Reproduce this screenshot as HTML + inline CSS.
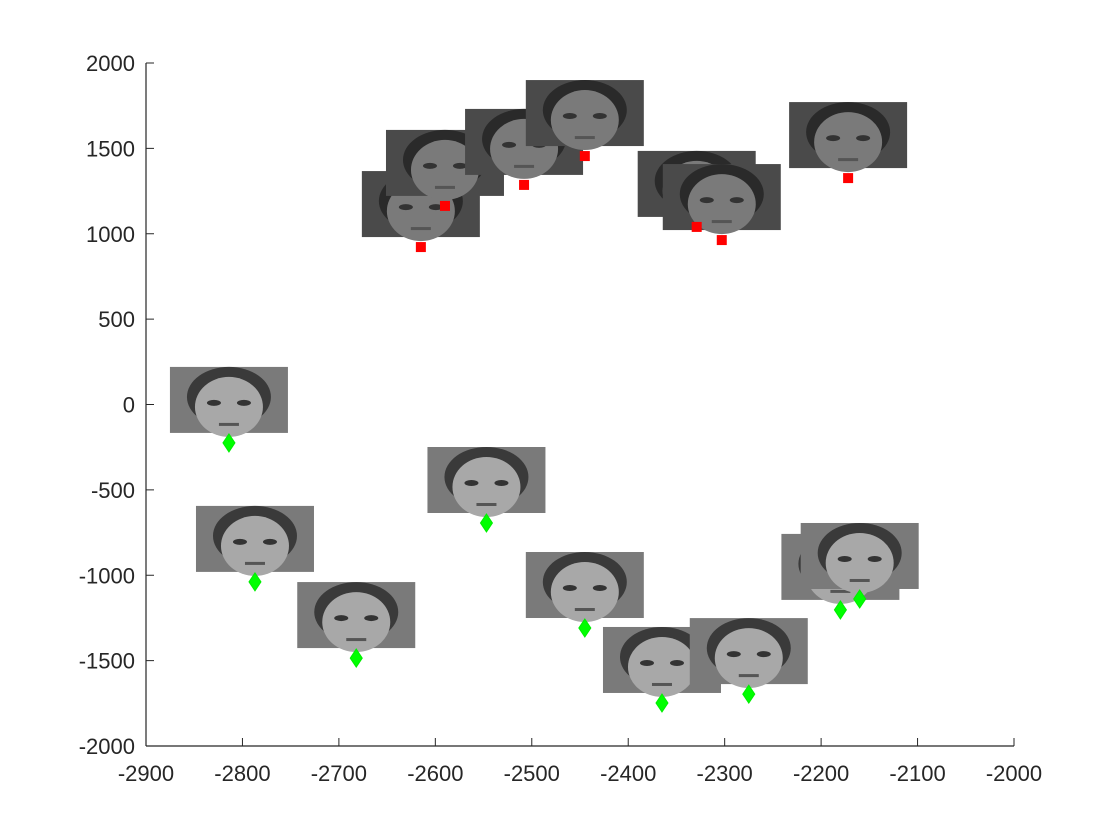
<!DOCTYPE html>
<html><head><meta charset="utf-8"><style>
body{margin:0;background:#fff}
svg{display:block}
text{font-family:"Liberation Sans",sans-serif;font-size:22px;fill:#262626}
</style></head><body>
<svg id="chart" width="1120" height="840">
<g id="imgs"></g>
<g id="marks"></g>
<g id="axes"></g>
</svg>
<script>
const redX=[-2615,-2590,-2508,-2445,-2329,-2303,-2172];
const redY=[922,1163,1286,1455,1040,963,1326];
const greenX=[-2814,-2787,-2682,-2547,-2445,-2365,-2275,-2180,-2160];
const greenY=[-225,-1039,-1485,-694,-1309,-1748,-1696,-1203,-1139];
const xTicks=[-2900,-2800,-2700,-2600,-2500,-2400,-2300,-2200,-2100,-2000];
const yTicks=[2000,1500,1000,500,0,-500,-1000,-1500,-2000];

const NS="http://www.w3.org/2000/svg";
const L=146,R=1014,T=63,B=746;
const sx=v=>L+(v+2900)/900*(R-L);
const sy=v=>T+(2000-v)/4000*(B-T);
function mk(tag,attrs,parent){const e=document.createElementNS(NS,tag);for(const k in attrs)e.setAttribute(k,attrs[k]);parent.appendChild(e);return e;}
const imgs=document.getElementById('imgs'),marks=document.getElementById('marks'),axes=document.getElementById('axes');

function face(cx,by,male){
  const g=mk('g',{},imgs);
  
  
  const x=cx-59,y=by-76;
  mk('rect',{x:x,y:y,width:118,height:66,fill:male?'#4a4a4a':'#7a7a7a'},g);
  mk('ellipse',{cx:cx,cy:y+30,rx:42,ry:30,fill:male?'#2a2a2a':'#3a3a3a'},g);
  mk('ellipse',{cx:cx,cy:y+40,rx:34,ry:30,fill:male?'#7a7a7a':'#a8a8a8'},g);
  mk('ellipse',{cx:cx-15,cy:y+36,rx:7,ry:3,fill:'#333'},g);
  mk('ellipse',{cx:cx+15,cy:y+36,rx:7,ry:3,fill:'#333'},g);
  mk('rect',{x:cx-10,y:y+56,width:20,height:3,fill:'#555'},g);
}
redX.forEach((v,i)=>face(sx(v),sy(redY[i]),true));
greenX.forEach((v,i)=>face(sx(v),sy(greenY[i]),false));

redX.forEach((v,i)=>{
  const r=mk('rect',{x:sx(v)-5,y:sy(redY[i])-5,width:10,height:10,fill:'#ff0000'},marks);
  
  
});
greenX.forEach((v,i)=>{
  const x=sx(v),y=sy(greenY[i]);
  const p=mk('polygon',{points:`${x},${y-9} ${x+6},${y} ${x},${y+9} ${x-6},${y}`,fill:'#00ff00',stroke:'#00ee00'},marks);
  
  
});

const xa=mk('path',{d:`M${L},${B}H${R}`,stroke:'#262626','stroke-width':1.2,fill:'none'},axes);


const ya=mk('path',{d:`M${L},${T}V${B}`,stroke:'#262626','stroke-width':1.2,fill:'none'},axes);


xTicks.forEach(v=>{
  const x=sx(v);
  mk('path',{d:`M${x},${B}V${B-8}`,stroke:'#262626'},axes);
  const t=mk('text',{x:x,y:B+35,'text-anchor':'middle'},axes);t.textContent=v;
  
  
});
yTicks.forEach(v=>{
  const y=sy(v);
  mk('path',{d:`M${L},${y}H${L+8}`,stroke:'#262626'},axes);
  const t=mk('text',{x:L-11,y:y+8,'text-anchor':'end'},axes);t.textContent=v;
  
  
});
</script>
</body></html>
